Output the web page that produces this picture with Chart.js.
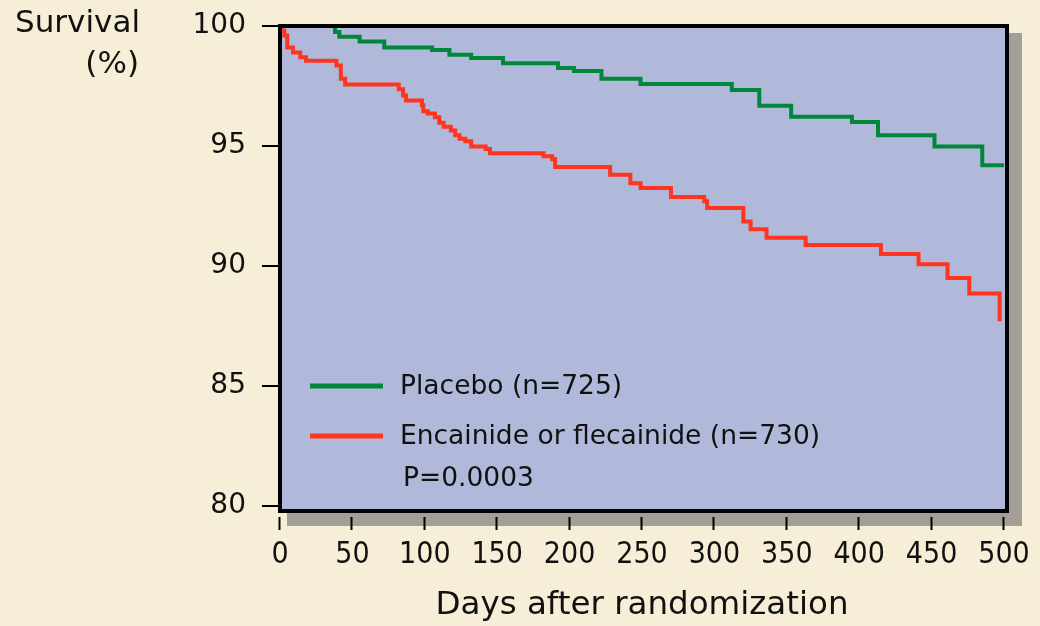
<!DOCTYPE html>
<html>
<head>
<meta charset="utf-8">
<script src="https://cdn.jsdelivr.net/npm/chart.js@4/dist/chart.umd.min.js"></script>
<style>
  html, body { margin: 0; padding: 0; background: #f6eed6; }
  #wrap { width: 1040px; height: 626px; }
</style>
</head>
<body>
<div id="wrap"><canvas id="kmChart" width="1040" height="626"></canvas></div>
<script>
// Kaplan-Meier curves, values
const placeboDays = [0, 38, 41, 55, 72, 105, 117, 132, 154, 192, 203, 222, 249, 312, 331, 353, 395, 413, 452, 485, 500];
const placeboSurv = [100, 99.75, 99.55, 99.35, 99.1, 99.0, 98.8, 98.67, 98.45, 98.25, 98.12, 97.8, 97.58, 97.33, 96.68, 96.22, 96.0, 95.45, 94.98, 94.2, 94.2];

const drugDays = [0, 1, 3, 5, 9, 14, 18, 39, 42, 45, 82, 85, 87, 98, 99, 102, 107, 110, 113, 118, 121, 124, 128, 132, 142, 145, 182, 188, 190, 228, 242, 249, 270, 293, 295, 320, 325, 336, 363, 415, 441, 461, 476, 497];
const drugSurv = [100, 99.8, 99.6, 99.1, 98.9, 98.7, 98.55, 98.35, 97.8, 97.56, 97.36, 97.1, 96.9, 96.7, 96.45, 96.35, 96.2, 95.97, 95.8, 95.65, 95.45, 95.3, 95.2, 94.98, 94.88, 94.7, 94.57, 94.45, 94.12, 93.8, 93.45, 93.25, 92.88, 92.7, 92.42, 91.85, 91.53, 91.18, 90.88, 90.5, 90.07, 89.5, 88.85, 87.7];

const xTicks = [0, 50, 100, 150, 200, 250, 300, 350, 400, 450, 500];
const yTicks = [80, 85, 90, 95, 100];

const seriesNames = ['Placebo (n=725)', 'Encainide or flecainide (n=730)'];
const pValueText = 'P=0.0003';

const GREEN = '#00873a';
const RED = '#ff3522';
const INK = '#111111';

function toPoints(days, surv) {
  return days.map((d, i) => ({ x: d, y: surv[i] }));
}

// box, shadow, legend and the horizontal y title
const decor = {
  id: 'decor',
  beforeDatasetsDraw(chart) {
    const { ctx, chartArea: a } = chart;
    ctx.save();
    ctx.fillStyle = '#a39e97';
    ctx.fillRect(a.left + 7, a.top + 7, (a.right + 3) - a.left + 8, (a.bottom + 5) - a.top + 8);
    ctx.fillStyle = '#b0b9d9';
    ctx.fillRect(a.left, a.top, (a.right + 3) - a.left, (a.bottom + 5) - a.top);
    ctx.restore();
  },
  afterDraw(chart) {
    const { ctx, chartArea: a } = chart;
    const xs = chart.scales.x;
    ctx.save();
    // frame
    ctx.strokeStyle = '#000';
    ctx.lineWidth = 4;
    ctx.strokeRect(a.left, a.top, (a.right + 3) - a.left, (a.bottom + 5) - a.top);

    // x tick marks sit below the shadow
    ctx.lineWidth = 2;
    xTicks.forEach(v => {
      const px = Math.round(xs.getPixelForValue(v)) - 0.5;
      ctx.beginPath();
      ctx.moveTo(px, a.bottom + 11);
      ctx.lineTo(px, a.bottom + 24);
      ctx.stroke();
    });

    // y title, written horizontally at top left
    ctx.fillStyle = INK;
    ctx.font = '31px "DejaVu Sans", Verdana, sans-serif';
    ctx.textAlign = 'right';
    ctx.textBaseline = 'middle';
    ctx.fillText('Survival', 140, 24);
    ctx.fillText('(%)', 139, 65);

    // legend inside the plot
    ctx.font = '26.5px "DejaVu Sans", Verdana, sans-serif';
    ctx.textAlign = 'left';
    const rows = [
      { color: GREEN, y: 386 },
      { color: RED, y: 436 }
    ];
    rows.forEach((r, i) => {
      ctx.strokeStyle = r.color;
      ctx.lineWidth = 5;
      ctx.beginPath();
      ctx.moveTo(310, r.y);
      ctx.lineTo(383, r.y);
      ctx.stroke();
      ctx.fillText(seriesNames[i], 400, r.y + 1);
    });
    ctx.fillText(pValueText, 403, 479);
    ctx.restore();
  }
};

const ctx = document.getElementById('kmChart');
new Chart(ctx, {
  type: 'line',
  data: {
    datasets: [
      {
        label: seriesNames[0],
        data: toPoints(placeboDays, placeboSurv),
        borderColor: GREEN,
        borderWidth: 4,
        stepped: 'before',
        pointRadius: 0,
        fill: false
      },
      {
        label: seriesNames[1],
        data: toPoints(drugDays, drugSurv),
        borderColor: RED,
        borderWidth: 4,
        stepped: 'before',
        pointRadius: 0,
        fill: false
      }
    ]
  },
  options: {
    responsive: false,
    animation: false,
    events: [],
    layout: { padding: { top: 26, right: 36, left: 0, bottom: 0 } },
    plugins: {
      legend: { display: false },
      tooltip: { enabled: false }
    },
    scales: {
      x: {
        type: 'linear',
        min: 0,
        max: 500,
        afterBuildTicks: s => { s.ticks = xTicks.map(v => ({ value: v })); },
        afterFit: s => { s.height = 120; s.paddingLeft = 0; s.paddingRight = 0; },
        border: { display: false },
        grid: { drawOnChartArea: false, tickLength: 24, tickColor: 'rgba(0,0,0,0)' },
        ticks: {
          color: INK,
          padding: 7,
          maxRotation: 0,
          font: { family: '"DejaVu Sans Condensed", "DejaVu Sans", sans-serif', size: 30 }
        },
        title: {
          display: true,
          text: 'Days after randomization',
          color: INK,
          padding: { top: 0, bottom: 1 },
          font: { family: '"DejaVu Sans", Verdana, sans-serif', size: 32.5 }
        }
      },
      y: {
        min: 80,
        max: 100,
        afterBuildTicks: s => { s.ticks = yTicks.map(v => ({ value: v })); },
        afterFit: s => { s.width = 280; s.paddingTop = 0; s.paddingBottom = 0; },
        border: { display: false },
        grid: { drawOnChartArea: false, tickLength: 18, tickColor: '#000', lineWidth: 2 },
        ticks: {
          color: INK,
          padding: 16,
          font: { family: '"DejaVu Sans", Verdana, sans-serif', size: 28 }
        }
      }
    }
  },
  plugins: [decor]
});
</script>
</body>
</html>
